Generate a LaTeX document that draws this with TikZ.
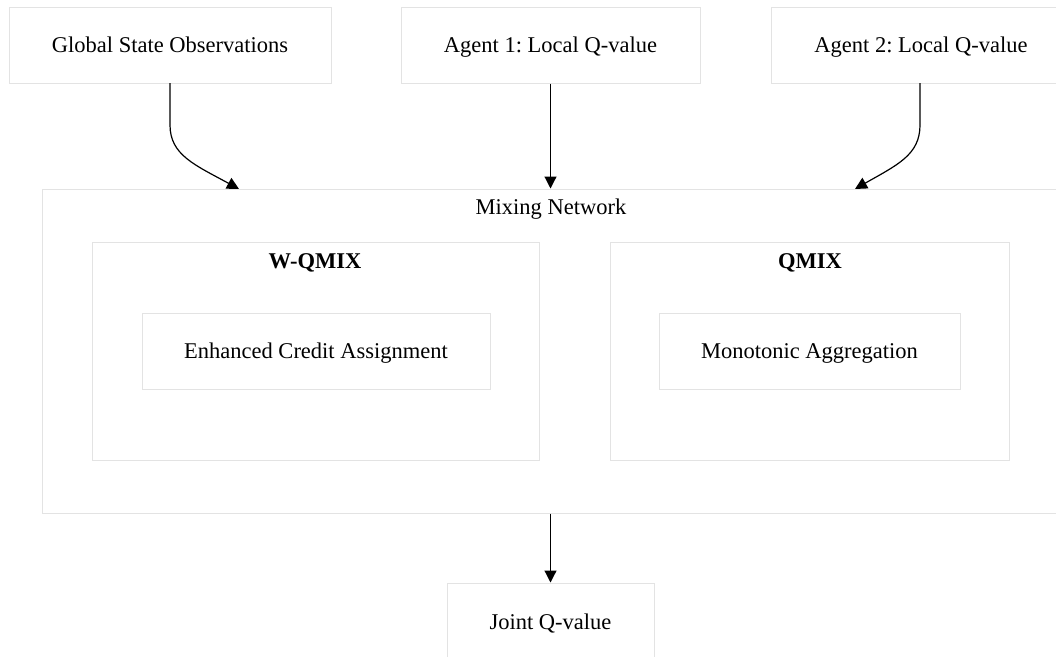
\documentclass[tikz,border=0pt]{standalone}
\usepackage{fontspec}
\setmainfont{Liberation Serif}
\usetikzlibrary{arrows.meta}
\definecolor{boxline}{HTML}{E3E3E3}
\tikzset{
  box/.style={draw=boxline, line width=1pt, fill=white, inner sep=0pt},
  lbl/.style={font=\fontsize{22.5}{26}\selectfont\frenchspacing, inner sep=0pt, anchor=base, yshift=-7pt},
  ttl/.style={font=\fontsize{22.5}{26}\selectfont\bfseries, inner sep=0pt, anchor=base, yshift=-7pt},
  conn/.style={draw=black, line width=1.2pt, -{Triangle[length=12pt,width=12pt]}},
}
\begin{document}
\begin{tikzpicture}[x=1pt,y=-1pt]
\useasboundingbox (0,0) rectangle (1056,656);
% boxes
\node[box, minimum width=322pt, minimum height=76pt] (glob) at (170,45) {};
\node[lbl] at (glob.center) {Global State Observations};
\node[box, minimum width=299pt, minimum height=76pt] (ag1) at (550.5,45) {};
\node[lbl] at (ag1.center) {Agent 1: Local Q-value};
\node[box, minimum width=300pt, minimum height=76pt] (ag2) at (921,45) {};
\node[lbl] at (ag2.center) {Agent 2: Local Q-value};
\node[box, minimum width=1030pt, minimum height=324pt] (mix) at (557,351) {};
\node[lbl] (mixl) at (551,207) {Mixing Network};
\node[box, minimum width=447pt, minimum height=218pt] (wq) at (315.5,351) {};
\node[ttl] (wql) at (315,261) {W-QMIX};
\node[box, minimum width=348pt, minimum height=76pt] (enh) at (316,351) {};
\node[lbl] at (enh.center) {Enhanced Credit Assignment};
\node[box, minimum width=399pt, minimum height=218pt] (qm) at (809.5,351) {};
\node[ttl] (qml) at (810,261) {QMIX};
\node[box, minimum width=301pt, minimum height=76pt] (mono) at (809.5,351) {};
\node[lbl] at (mono.center) {Monotonic Aggregation};
\node[box, minimum width=207pt, minimum height=80pt] (joint) at (550.5,623) {};
\node[lbl] at (550.5,622) {Joint Q-value};
% connector endpoints
\coordinate (gA) at (170,83);
\coordinate (gB) at (239,189);
\coordinate (aA) at (920,83);
\coordinate (aB) at (855,189);
% connectors
\draw[conn] (gA) -- (170,125) .. controls (170,155) and (195,165) .. (gB);
\draw[conn] (ag1.south) -- (ag1.south |- mix.north);
\draw[conn] (aA) -- (920,125) .. controls (920,155) and (897,165) .. (aB);
\draw[conn] (mix.south -| joint.north) -- (joint.north);
\end{tikzpicture}
\end{document}
